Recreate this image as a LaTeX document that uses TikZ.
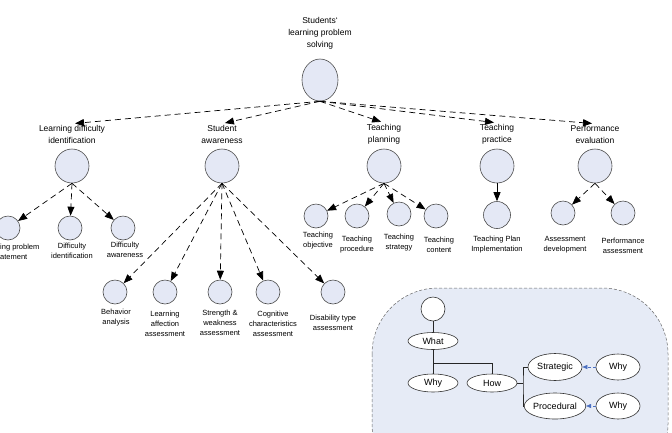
\documentclass[tikz,border=0pt]{standalone}
\usepackage{fontspec}
\setmainfont{Liberation Sans}
\usetikzlibrary{arrows.meta,shapes.geometric}
\definecolor{bubfill}{HTML}{E4E8F5}
\definecolor{boxfill}{HTML}{E6EBF6}
\definecolor{arrowblue}{HTML}{4A6FC0}
\begin{document}
\begin{tikzpicture}[x=1pt,y=-1pt,
  bub/.style={circle,draw=black!70,fill=bubfill,line width=0.6pt,inner sep=0pt,minimum size=#1},
  toplbl/.style={font=\fontsize{8.5}{12}\selectfont,align=center,inner sep=1pt},
  lbl/.style={font=\fontsize{7.5}{10}\selectfont,align=center,inner sep=1pt},
  darr/.style={dash pattern=on 6pt off 4pt,line width=0.7pt,-{Triangle[length=9pt,width=7pt]}},
  sarr/.style={line width=0.7pt,-{Triangle[length=9pt,width=7pt]}},
  ell/.style={ellipse,draw=black!80,fill=white,line width=0.6pt,inner sep=0pt,font=\fontsize{9}{10}\selectfont,minimum width=#1},
  barr/.style={draw=arrowblue,densely dashed,line width=0.6pt,-{Triangle[length=5pt,width=4pt]}},
  conn/.style={line width=0.7pt,draw=black!85}]
\useasboundingbox (0,0) rectangle (672,432);
\clip (0,0) rectangle (672,432);

% root
\node[toplbl] (rootL) at (320,33) {Students`\\learning problem\\solving};
\node[ellipse,draw=black!70,fill=bubfill,line width=0.6pt,minimum width=36,minimum height=42,inner sep=0pt] (root) at (320,80) {};

% level 1 labels
\node[toplbl] (ldiL) at (72,134) {Learning difficulty\\identification};
\node[toplbl] (saL)  at (222,134) {Student\\awareness};
\node[toplbl] (tpL)  at (384,134) {Teaching\\planning};
\node[toplbl] (tprL) at (497,134) {Teaching\\practice};
\node[toplbl] (peL)  at (595,134) {Performance\\evaluation};

% level 1 circles
\node[bub=34] (ldi) at (72,166) {};
\node[bub=34] (sa)  at (222,166) {};
\node[bub=34] (tp)  at (384,166) {};
\node[bub=34] (tpr) at (497,166) {};
\node[bub=34] (pe)  at (595,166) {};

\foreach \t in {ldiL,saL,tpL,tprL,peL}
  \draw[darr,shorten >=3pt] (root.south) -- (\t.north);

% LDI children
\node[bub=24] (c1) at (8,228) {};
\node[bub=24] (c2) at (70,228) {};
\node[bub=24] (c3) at (123,228) {};
\node[lbl,anchor=west,align=left,inner sep=0pt] (c1L) at (0,252) {ing problem\\atement};
\node[lbl] (c2L) at (72,251) {Difficulty\\identification};
\node[lbl] (c3L) at (125,250) {Difficulty\\awareness};
\foreach \c in {c1,c2,c3} \draw[darr] (ldi.south) -- (\c);

% SA children
\node[bub=24] (s1) at (115,292) {};
\node[bub=24] (s2) at (165,292) {};
\node[bub=24] (s3) at (220,292) {};
\node[bub=24] (s4) at (268,292) {};
\node[bub=24] (s5) at (333,292) {};
\node[lbl] (s1L) at (116,318) {Behavior\\analysis};
\node[lbl] (s2L) at (165,324) {Learning\\affection\\assessment};
\node[lbl] (s3L) at (220,323) {Strength \&\\weakness\\assessment};
\node[lbl] (s4L) at (273,324) {Cognitive\\characteristics\\assessment};
\node[lbl] (s5L) at (333,323) {Disability type\\assessment};
\foreach \c in {s1,s2,s3,s4,s5} \draw[darr] (sa.south) -- (\c);

% TP children
\node[bub=24] (t1) at (316,216) {};
\node[bub=24] (t2) at (357,216) {};
\node[bub=24] (t3) at (399,214) {};
\node[bub=24] (t4) at (436,216) {};
\node[lbl] (t1L) at (318,241) {Teaching\\objective};
\node[lbl] (t2L) at (357,245) {Teaching\\procedure};
\node[lbl] (t3L) at (399,243) {Teaching\\strategy};
\node[lbl] (t4L) at (439,245) {Teaching\\content};
\foreach \c in {t1,t2,t3,t4} \draw[darr] (tp.south) -- (\c);

% Tpr child
\node[bub=27] (p1) at (497,215) {};
\node[lbl] (p1L) at (497,245) {Teaching Plan\\Implementation};
\draw[sarr] (tpr.south) -- (p1);

% PE children
\node[bub=24] (e1) at (563,213) {};
\node[bub=24] (e2) at (623,213) {};
\node[lbl] (e1L) at (565,245) {Assessment\\development};
\node[lbl] (e2L) at (623,246) {Performance\\assessment};
\foreach \c in {e1,e2} \draw[darr] (pe.south) -- (\c);

% legend box
\path[fill=boxfill,draw=black!60,densely dashed,line width=0.5pt,rounded corners=66]
  (372,288) rectangle (668,490);
\node[circle,draw=black!80,fill=white,line width=0.6pt,minimum size=24,inner sep=0pt] (k0) at (433,309) {};
\node[ell=50,minimum height=17] (what) at (433,341) {What};
\node[ell=50,minimum height=18] (why) at (433,383) {Why};
\node[ell=50,minimum height=18] (how) at (492,383) {How};
\node[ell=54,minimum height=27] (strat) at (555,367) {Strategic};
\node[ell=54,minimum height=26] (proc) at (555,406) {Procedural};
\node[ell=44,minimum height=26] (w1) at (618,367) {Why};
\node[ell=44,minimum height=26] (w2) at (618,406) {Why};
\coordinate (jn) at (433,363);
\coordinate (hb) at (523,383);
\draw[conn] (k0.south) -- (what.north);
\draw[conn] (what.south) -- (why.north);
\draw[conn] (jn) -| (how.north);
\draw[conn] (how.east) -- (hb);
\draw[conn] (strat.west) -| (hb) |- (proc.west);
\draw[barr] (w1.west) -- (strat.east);
\draw[barr] (w2.west) -- (proc.east);
\end{tikzpicture}
\end{document}
